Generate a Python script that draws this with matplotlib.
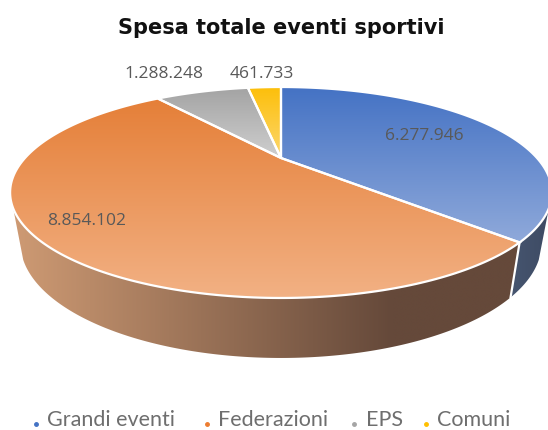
import matplotlib
matplotlib.use("Agg")
import matplotlib.pyplot as plt
from matplotlib.patches import Polygon
import numpy as np

categories = ["Grandi eventi", "Federazioni", "EPS", "Comuni"]
values = [6277946, 8854102, 1288248, 461733]
value_labels = ["6.277.946", "8.854.102", "1.288.248", "461.733"]

legend_colors = ["#4472c4", "#ed7d31", "#a5a5a5", "#ffc000"]
top_colors = [("#4472c4", "#8fa9da"), ("#e57f38", "#f2b184"), ("#a3a3a3", "#cfcfcf"), ("#fdbf0a", "#fcd76f")]

# pie geometry, in pixels of the picture
cx, cy = 281, 158
k = 0.327
a_y = 94.2
b_x = 256


def top_xy(theta):
    x = np.sin(theta)
    y = np.cos(theta)
    d = 1 + k * y
    return cx + b_x * x / d, cy - a_y * y / d


def low_xy(theta):
    x, y = top_xy(theta)
    return cx + 0.962 * (x - cx), cy + 47.4 + 1.09 * (y - cy)


def rgb(c):
    return np.array(matplotlib.colors.to_rgb(c))


def gradient_fill(ax, pts, c1, c2, horizontal=False, edge=True, stop=1.0):
    pts = np.array(pts)
    x0, x1 = pts[:, 0].min(), pts[:, 0].max()
    y0, y1 = pts[:, 1].min(), pts[:, 1].max()
    t = np.clip(np.linspace(0, 1, 256) / stop, 0, 1)
    grad = np.outer(t, rgb(c2) - rgb(c1)) + rgb(c1)
    if horizontal:
        img = grad[np.newaxis, :, :]
    else:
        img = grad[:, np.newaxis, :]
    im = ax.imshow(img, extent=[x0, x1, y1, y0], aspect="auto", interpolation="bilinear", zorder=2)
    poly = Polygon(pts, closed=True, transform=ax.transData, fc="none", ec="none")
    ax.add_patch(poly)
    im.set_clip_path(poly)
    if edge:
        ax.add_patch(Polygon(pts, closed=True, fc="none", ec="white", lw=1.6, zorder=3))


def wall(ax, t_top1, t_top2, t_low1, t_low2, c1, c2, stop=1.0):
    tx, ty = top_xy(np.linspace(t_top1, t_top2, 200))
    lx, ly = low_xy(np.linspace(t_low2, t_low1, 200))
    pts = list(zip(tx, ty)) + list(zip(lx, ly))
    gradient_fill(ax, pts, c1, c2, horizontal=True, edge=False, stop=stop)


fig = plt.figure(figsize=(5.48, 4.3), dpi=100)
ax = fig.add_axes([0, 0, 1, 1])

edges = np.cumsum([0] + values) / sum(values) * 2 * np.pi

# side walls: top rim runs to its widest point, lower rim stops a bit earlier
widest = np.arccos(-k)
low_end = np.arccos(-0.452)
wall(ax, widest, edges[1], low_end, edges[1], "#46556f", "#3d4a63")
wall(ax, edges[1], 2 * np.pi - widest, edges[1], 2 * np.pi - low_end, "#cf9b74", "#65493a", stop=0.75)

# line between the two walls
tx, ty = top_xy(edges[1])
lx, ly = low_xy(edges[1])
ax.plot([tx, lx], [ty, ly], color="white", lw=1.6, zorder=3)

# top of the pie
for i in range(len(values)):
    th = np.linspace(edges[i], edges[i + 1], 200)
    tx, ty = top_xy(th)
    pts = [(cx, cy)] + list(zip(tx, ty))
    gradient_fill(ax, pts, top_colors[i][0], top_colors[i][1])

label_pos = [(424, 136), (87, 221), (164, 74), (262, 74)]
for lab, (x, y) in zip(value_labels, label_pos):
    ax.text(x, y, lab, ha="center", va="center", fontsize=12.5, color="#595959",
            family="Open Sans", zorder=5)

ax.text(281, 28, "Spesa totale eventi sportivi", ha="center", va="center", fontsize=15,
        fontweight="bold", color="#111111", family="DejaVu Sans", zorder=5)

legend_marker_x = [36, 207, 354, 426]
legend_text_x = [47, 218, 366, 437]
for name, col, mx, tx in zip(categories, legend_colors, legend_marker_x, legend_text_x):
    ax.plot([mx], [424], marker="o", ms=2.5, color=col, zorder=5)
    ax.text(tx, 426, name, ha="left", va="baseline", fontsize=15.5, color="#6e6e6e",
            family="Lato", zorder=5)

ax.set_xlim(0, 548)
ax.set_ylim(430, 0)
ax.axis("off")

fig.savefig("out.png", dpi=100)
